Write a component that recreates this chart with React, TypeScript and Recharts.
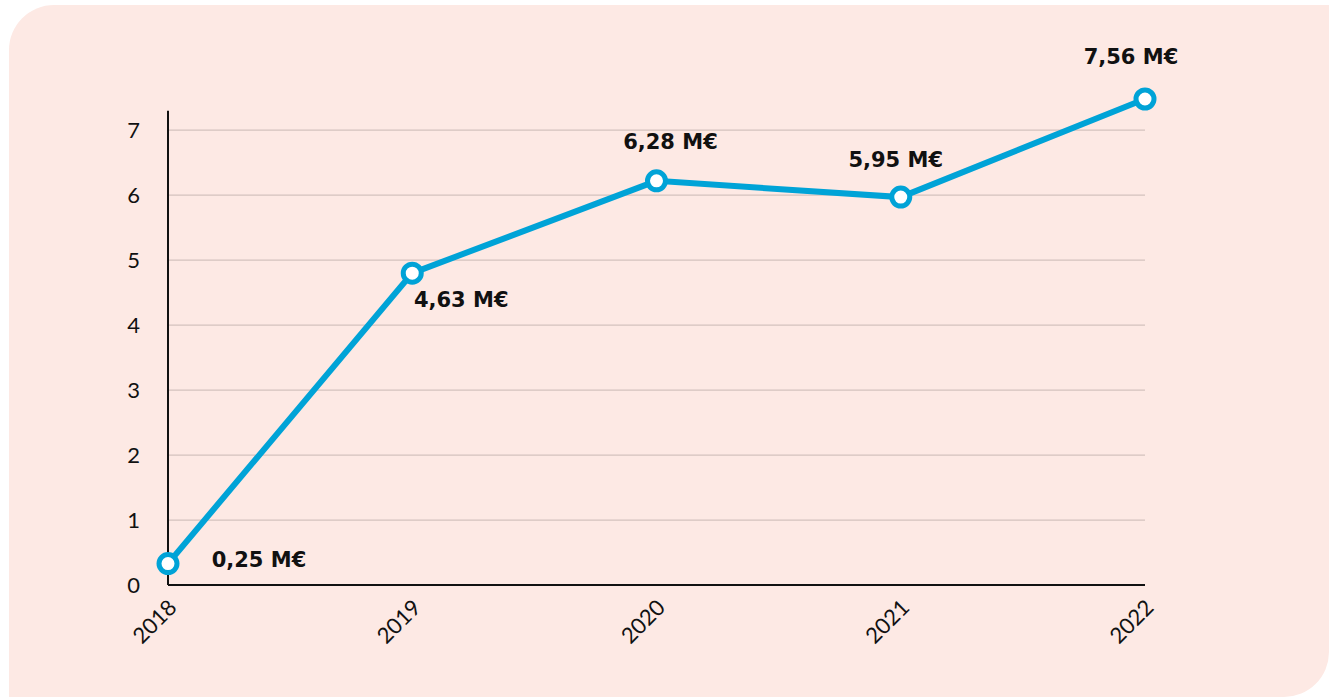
import { LabelList, Line, LineChart, ReferenceLine, XAxis, YAxis } from "recharts";

const years = ["2018", "2019", "2020", "2021", "2022"];
const revenue = [0.33, 4.8, 6.22, 5.97, 7.48];
const revenueLabels = ["0,25 M€", "4,63 M€", "6,28 M€", "5,95 M€", "7,56 M€"];
const yTicks = [0, 1, 2, 3, 4, 5, 6, 7];
const axisTop = 7.3;

const data = years.map((year, i) => ({ year, value: revenue[i], label: revenueLabels[i] }));

// label offsets relative to each point (dx, dy)
const labelOffsets = [
  [91, -4],
  [49, 27],
  [14, -39],
  [-5, -37],
  [-14, -42],
];

function PointLabel(props: any) {
  const { x, y, index, value } = props;
  const [dx, dy] = labelOffsets[index] ?? [0, -20];
  return (
    <text
      x={x + dx}
      y={y + dy}
      textAnchor="middle"
      dominantBaseline="central"
      fontFamily="'DejaVu Sans', sans-serif"
      fontWeight={700}
      fontSize={21}
      fill="#111"
    >
      {value}
    </text>
  );
}

function YearTick(props: any) {
  const { x, y, payload } = props;
  return (
    <text
      x={x + 10}
      y={y + 16}
      transform={`rotate(-45, ${x + 10}, ${y + 16})`}
      textAnchor="end"
      fontFamily="Lato, 'Noto Sans', sans-serif"
      fontWeight={400}
      fontSize={22}
      fill="#111"
    >
      {payload.value}
    </text>
  );
}

export default function App() {
  return (
    <div style={{ position: "fixed", left: 0, top: 0, width: 1332, height: 697, background: "#fff" }}>
      <div
        style={{
          position: "absolute",
          left: 9,
          top: 5,
          width: 1320,
          height: 692,
          background: "#fde9e4",
          borderTopLeftRadius: 45,
          borderBottomRightRadius: 45,
        }}
      />
      <div style={{ position: "absolute", left: 0, top: 0 }}>
        <LineChart
          width={1332}
          height={697}
          data={data}
          margin={{ top: 99, right: 187, left: 108, bottom: 52 }}
        >
          {yTicks
            .filter((t) => t > 0)
            .map((t) => (
              <ReferenceLine key={t} y={t} stroke="#d3c2be" strokeWidth={1.2} />
            ))}
          <XAxis
            dataKey="year"
            axisLine={{ stroke: "#111", strokeWidth: 2 }}
            tickLine={false}
            tick={<YearTick />}
            height={60}
            interval={0}
          />
          <YAxis
            domain={[0, "dataMax"]}
            ticks={yTicks}
            width={60}
            axisLine={false}
            tickLine={false}
            tickMargin={22}
            tick={{ fontSize: 22, fill: "#111", fontFamily: "Lato, 'Noto Sans', sans-serif", fontWeight: 400 }}
          />
          <ReferenceLine
            segment={[
              { x: years[0], y: 0 },
              { x: years[0], y: axisTop },
            ]}
            stroke="#111"
            strokeWidth={2}
          />
          <Line
            type="linear"
            dataKey="value"
            stroke="#00a3d7"
            strokeWidth={6}
            dot={{ r: 9, stroke: "#00a3d7", strokeWidth: 5, fill: "#fff" }}
            activeDot={false}
            isAnimationActive={false}
          >
            <LabelList dataKey="label" content={<PointLabel />} />
          </Line>
        </LineChart>
      </div>
    </div>
  );
}
